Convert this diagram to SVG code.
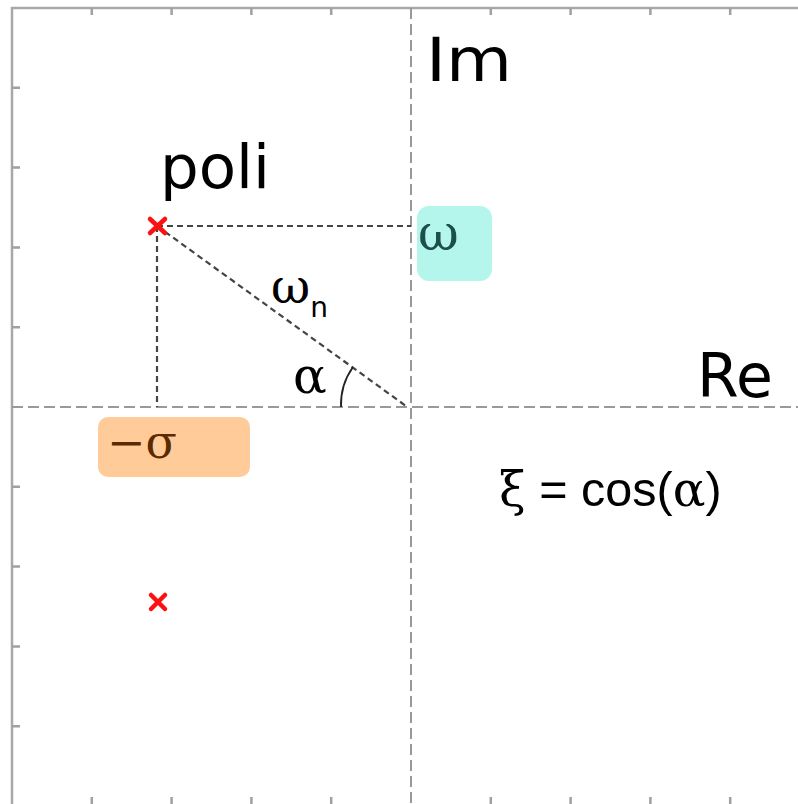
<svg xmlns="http://www.w3.org/2000/svg" width="798" height="804" viewBox="0 0 798 804">
<style>
.frame{stroke:#a8a8a8;stroke-width:2.5;fill:none}
.tick{stroke:#a0a0a0;stroke-width:2.5}
.axis{stroke:#999;stroke-width:2;stroke-dasharray:11 5;fill:none}
.guide{stroke:#444;stroke-width:2.2;stroke-dasharray:6 4;fill:none}
.pole{stroke:#ff1010;stroke-width:4.5;stroke-linecap:round}
.sans{font-family:"DejaVu Sans",Verdana,sans-serif;fill:#000}
.greek{font-family:"DejaVu Serif","Liberation Serif",serif}
.lsans{font-family:"Liberation Sans",Arial,sans-serif}
</style>
<rect width="798" height="804" fill="#fff"/>
<g id="frame">
<path class="frame" d="M12,804 V8 H798"/>
<g class="tick">
<path d="M91.8,8v7M171.6,8v7M251.4,8v7M331.2,8v7M490.8,8v7M570.6,8v7M650.4,8v7M730.2,8v7"/>
<path d="M91.8,804v-7M171.6,804v-7M251.4,804v-7M331.2,804v-7M490.8,804v-7M570.6,804v-7M650.4,804v-7M730.2,804v-7"/>
<path d="M12,87.8h8M12,167.6h8M12,247.4h8M12,327.2h8M12,486.8h8M12,566.6h8M12,646.4h8M12,726.2h8"/>
</g>
</g>
<g id="connectors">
<path class="axis" d="M411,8 V804"/>
<path class="axis" d="M12,407 H798"/>
<path class="guide" d="M157,226 H411"/>
<path class="guide" d="M157,226 V407"/>
<path class="guide" d="M157,226 L406,406"/>
<path d="M341,407 A65,65 0 0 1 353,367" stroke="#222" stroke-width="1.8" fill="none"/>
</g>
<g id="pole1"><path class="pole" d="M150,219 L165,233 M165,219 L150,233"/></g>
<g id="pole2"><path class="pole" d="M151,595 L165,609 M165,595 L151,609"/></g>
<g id="label-im"><text class="sans" x="426" y="81" font-size="60" textLength="86" lengthAdjust="spacingAndGlyphs">Im</text></g>
<g id="label-re"><text class="sans" x="697" y="397" font-size="60">Re</text></g>
<g id="label-poli"><text class="sans" x="160" y="188" font-size="60" textLength="110" lengthAdjust="spacingAndGlyphs">poli</text></g>
<g id="omega-box">
<rect x="417" y="206" width="75" height="75" rx="12" fill="#b4f6ec"/>
<text class="greek" x="418" y="250" font-size="50" fill="#1a4f4c">ω</text>
</g>
<g id="label-omega-n"><text class="greek" x="271" y="303" font-size="48" fill="#000">ω<tspan class="sans" font-size="28" dy="14">n</tspan></text></g>
<g id="label-alpha"><text class="greek" x="293" y="393" font-size="50" fill="#000">α</text></g>
<g id="sigma-box">
<rect x="98" y="417" width="152" height="60" rx="10" fill="#ffcc99"/>
<text class="greek" x="107" y="458" font-size="46" fill="#5a2a00">−σ</text>
</g>
<g id="label-xi"><text x="499" y="506" font-size="48.5" fill="#000"><tspan class="greek">ξ</tspan><tspan class="lsans"> = cos(</tspan><tspan class="greek">α</tspan><tspan class="lsans">)</tspan></text></g>
</svg>
